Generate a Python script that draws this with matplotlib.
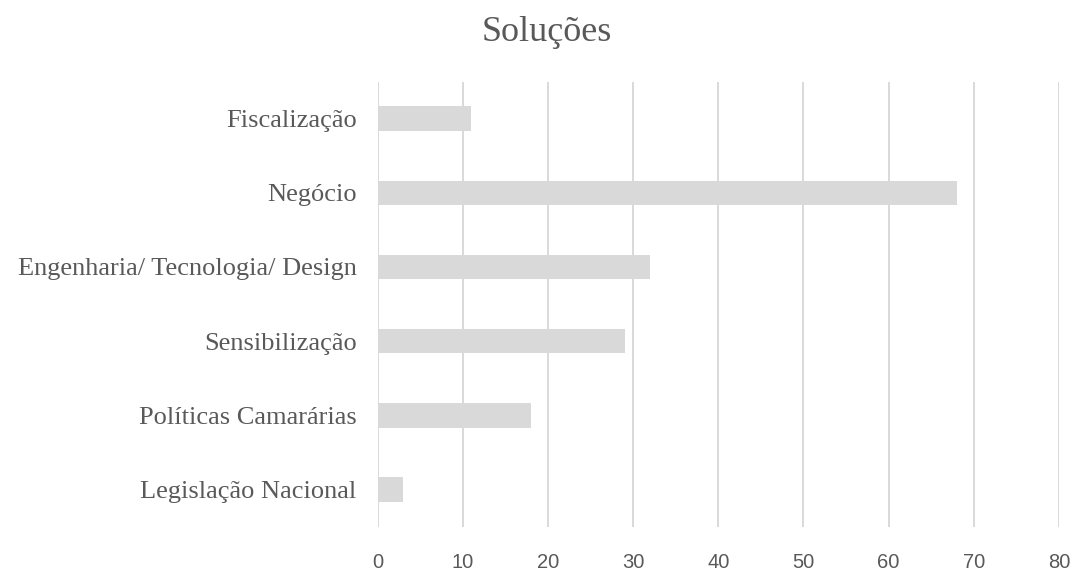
import matplotlib
matplotlib.use("Agg")
import matplotlib.pyplot as plt

categories = ["Fiscalização", "Negócio", "Engenharia/ Tecnologia/ Design",
              "Sensibilização", "Políticas Camarárias", "Legislação Nacional"]
values = [11, 68, 32, 29, 18, 3]
xticks = [0, 10, 20, 30, 40, 50, 60, 70, 80]

W, H = 1078, 571
fig = plt.figure(figsize=(W / 100, H / 100), dpi=100)
left, right, top, bottom = 377.5, 1059, 81.5, 526.7
ax = fig.add_axes([left / W, 1 - bottom / H, (right - left) / W, (bottom - top) / H])

text_color = "#595959"
grid_color = "#d9d9d9"
serif = ["Liberation Serif", "DejaVu Serif"]

y = list(range(len(categories)))
ax.barh(y, values, height=0.33, color="#d9d9d9", zorder=2)
ax.set_ylim(len(categories) - 0.5, -0.5)
ax.set_xlim(xticks[0], xticks[-1])
ax.set_xticks(xticks)
ax.set_xticklabels([str(t) for t in xticks], fontsize=14.5, color=text_color,
                   family=["Liberation Sans Narrow", "Liberation Sans", "DejaVu Sans"])
ax.set_yticks(y)
ax.set_yticklabels(categories, fontsize=19, color=text_color, family=serif)
ax.tick_params(axis="both", length=0)
ax.tick_params(axis="x", pad=19)
ax.tick_params(axis="y", pad=15)
ax.xaxis.grid(True, color=grid_color, linewidth=1.4, zorder=0)
ax.set_axisbelow(True)
for s in ax.spines.values():
    s.set_visible(False)

fig.text(547 / W, 1 - 41 / H, "Soluções", ha="center", va="baseline",
         fontsize=26, color=text_color, family=serif)

fig.savefig("out.png", dpi=100, facecolor="white")
